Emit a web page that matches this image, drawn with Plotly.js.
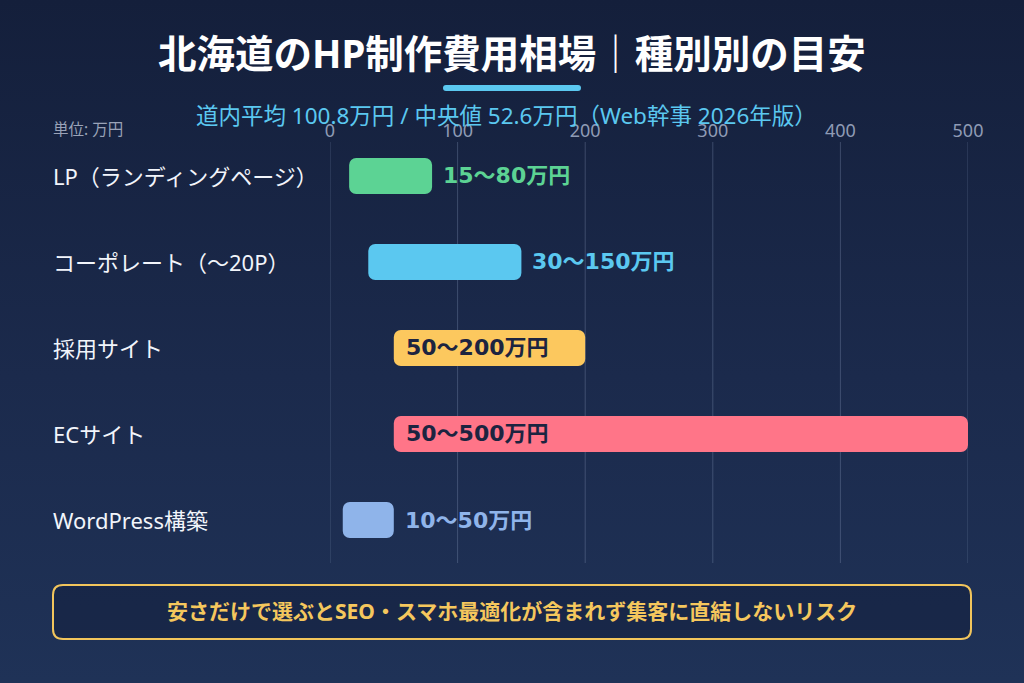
<!DOCTYPE html>
<html>
<head>
<meta charset="utf-8">
<script src="https://cdn.plot.ly/plotly-3.0.1.min.js"></script>
<style>
  html, body { margin: 0; padding: 0; }
  body { width: 1024px; height: 683px; background: linear-gradient(180deg, #141f3b 0%, #1b2a4c 55%, #1f3257 100%); }
  #chart { width: 1024px; height: 683px; }
</style>
</head>
<body>
<div id="chart"></div>
<script>
// ---- data ----
const categories = ["LP（ランディングページ）", "コーポレート（〜20P）", "採用サイト", "ECサイト", "WordPress構築"];
const lowValues  = [15, 30, 50, 50, 10];
const highValues = [80, 150, 200, 500, 50];
const rangeLabels = ["15〜80万円", "30〜150万円", "50〜200万円", "50〜500万円", "10〜50万円"];
const labelInside = [false, false, true, true, false];
const barColors = ["#5cd394", "#5bc8f0", "#fcc85e", "#ff7588", "#8fb4ea"];
const tickValues = [0, 100, 200, 300, 400, 500];
const titleText = "北海道のHP制作費用相場｜種別別の目安";
const subtitleText = "道内平均 100.8万円 / 中央値 52.6万円（Web幹事 2026年版）";
const unitText = "単位: 万円";
const noteText = "安さだけで選ぶとSEO・スマホ最適化が含まれず集客に直結しないリスク";

// ---- layout geometry (pixels) ----
const W = 1024, H = 683;
const mL = 330, mR = 56, mT = 142, mB = 120;
const pw = W - mL - mR, ph = H - mT - mB;
const px = v => (v - mL) / pw;          // pixel x -> paper x
const py = v => (H - mB - v) / ph;      // pixel y -> paper y

const FONT = "'Noto Sans', 'Noto Sans CJK JP', sans-serif";
const NUMFONT = "'DejaVu Sans', 'Noto Sans CJK JP', sans-serif";

const trace = {
  type: "bar",
  orientation: "h",
  y: categories,
  base: lowValues,
  x: highValues.map((h, i) => h - lowValues[i]),
  width: 0.42,
  marker: { color: barColors, cornerradius: 7, line: { width: 0 } },
  hoverinfo: "skip"
};

const annotations = [];
categories.forEach((c, i) => {
  annotations.push({
    xref: "paper", yref: "y", x: px(51), y: c, xanchor: "left", yanchor: "middle",
    text: c, showarrow: false, font: { family: FONT, size: 22, color: "#f2f5fb" }
  });
  if (labelInside[i]) {
    annotations.push({
      xref: "x", yref: "y", x: lowValues[i], y: c, xanchor: "left", yanchor: "middle", xshift: 10,
      text: "<b>" + rangeLabels[i] + "</b>", showarrow: false,
      font: { family: NUMFONT, size: 22, color: "#1c2440" }
    });
  } else {
    annotations.push({
      xref: "x", yref: "y", x: highValues[i], y: c, xanchor: "left", yanchor: "middle", xshift: 9,
      text: "<b>" + rangeLabels[i] + "</b>", showarrow: false,
      font: { family: NUMFONT, size: 22, color: barColors[i] }
    });
  }
});
annotations.push({
  xref: "paper", yref: "paper", x: px(512), y: py(53), xanchor: "center", yanchor: "middle",
  text: "<b>" + titleText + "</b>", showarrow: false,
  font: { family: FONT, size: 38.5, color: "#ffffff" }
});
annotations.push({
  xref: "paper", yref: "paper", x: px(506), y: py(115), xanchor: "center", yanchor: "middle",
  text: subtitleText, showarrow: false,
  font: { family: FONT, size: 22.5, color: "#5bc8f0" }
});
annotations.push({
  xref: "paper", yref: "paper", x: px(51), y: py(129), xanchor: "left", yanchor: "middle",
  text: unitText, showarrow: false,
  font: { family: FONT, size: 15.5, color: "#9aa3b8" }
});
annotations.push({
  xref: "paper", yref: "paper", x: px(512), y: py(611), xanchor: "center", yanchor: "middle",
  text: "<b>" + noteText + "</b>", showarrow: false,
  font: { family: FONT, size: 21, color: "#f5c75d" }
});

// rounded rectangle path in paper coords
function roundRect(x0, y0, x1, y1, r) {
  const X = v => px(v).toFixed(5), Y = v => py(v).toFixed(5);
  return `M ${X(x0 + r)},${Y(y0)} L ${X(x1 - r)},${Y(y0)} Q ${X(x1)},${Y(y0)} ${X(x1)},${Y(y0 + r)} ` +
         `L ${X(x1)},${Y(y1 - r)} Q ${X(x1)},${Y(y1)} ${X(x1 - r)},${Y(y1)} ` +
         `L ${X(x0 + r)},${Y(y1)} Q ${X(x0)},${Y(y1)} ${X(x0)},${Y(y1 - r)} ` +
         `L ${X(x0)},${Y(y0 + r)} Q ${X(x0)},${Y(y0)} ${X(x0 + r)},${Y(y0)} Z`;
}

const shapes = tickValues.map(v => ({
  type: "line", xref: "x", yref: "paper", x0: v, x1: v, y0: 0, y1: 1, layer: "below",
  line: { color: "rgba(150,165,200,0.30)", width: 1 }
}));
shapes.push(
  { type: "path", xref: "paper", yref: "paper", path: roundRect(443, 85, 581, 91, 3),
    fillcolor: "#5bc8f0", line: { width: 0 } },
  { type: "path", xref: "paper", yref: "paper", path: roundRect(53, 585, 971, 639, 10),
    fillcolor: "rgba(18,28,58,0.45)", line: { color: "#f2c55c", width: 2 } }
);

const layout = {
  width: W, height: H,
  margin: { l: mL, r: mR, t: mT, b: mB },
  paper_bgcolor: "rgba(0,0,0,0)",
  plot_bgcolor: "rgba(0,0,0,0)",
  showlegend: false,
  xaxis: {
    side: "top", range: [0, 500], tickvals: tickValues, ticktext: tickValues.map(String),
    showgrid: false, zeroline: false, showline: false, ticks: "",
    tickfont: { family: FONT, size: 18, color: "#8f9bb5" }, fixedrange: true
  },
  yaxis: {
    type: "category", range: [4.5, -0.395], showticklabels: false,
    showgrid: false, zeroline: false, showline: false, ticks: "", fixedrange: true
  },
  annotations: annotations,
  shapes: shapes,
  font: { family: FONT }
};

Plotly.newPlot("chart", [trace], layout, { displayModeBar: false, staticPlot: true });
</script>
</body>
</html>
